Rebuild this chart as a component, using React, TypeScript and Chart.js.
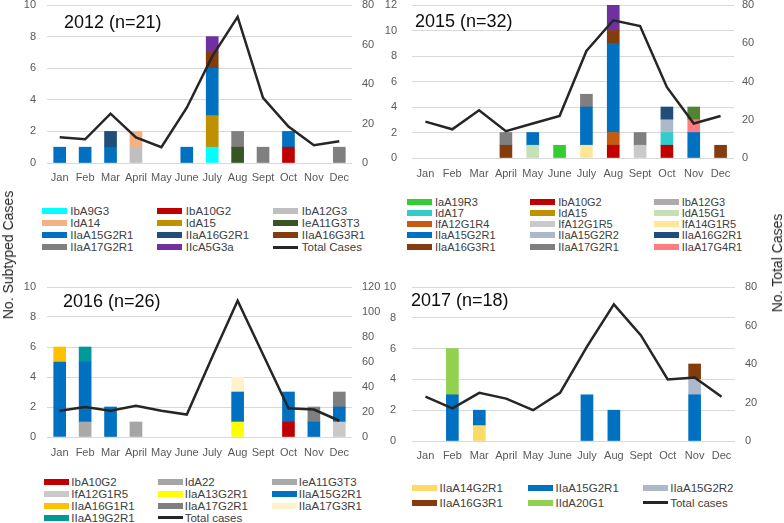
import React, { useEffect, useRef } from "react";
import { Chart, registerables } from "chart.js";

Chart.register(...registerables);
Chart.defaults.font.family = "'Liberation Sans', Arial, sans-serif";

const months = ["Jan", "Feb", "Mar", "April", "May", "June", "July", "Aug", "Sept", "Oct", "Nov", "Dec"];

// ---------- 2012 ----------
const names2012 = ["IbA9G3", "IbA10G2", "IbA12G3", "IdA14", "IdA15", "IeA11G3T3", "IIaA15G2R1", "IIaA16G2R1", "IIaA16G3R1", "IIaA17G2R1", "IIcA5G3a"];
const counts2012 = [
  [0, 0, 0, 0, 0, 0, 1, 0, 0, 0, 0, 0],
  [0, 0, 0, 0, 0, 0, 0, 0, 0, 1, 0, 0],
  [0, 0, 0, 1, 0, 0, 0, 0, 0, 0, 0, 0],
  [0, 0, 0, 1, 0, 0, 0, 0, 0, 0, 0, 0],
  [0, 0, 0, 0, 0, 0, 2, 0, 0, 0, 0, 0],
  [0, 0, 0, 0, 0, 0, 0, 1, 0, 0, 0, 0],
  [1, 1, 1, 0, 0, 1, 3, 0, 0, 1, 0, 0],
  [0, 0, 1, 0, 0, 0, 0, 0, 0, 0, 0, 0],
  [0, 0, 0, 0, 0, 0, 1, 0, 0, 0, 0, 0],
  [0, 0, 0, 0, 0, 0, 0, 1, 1, 0, 0, 1],
  [0, 0, 0, 0, 0, 0, 1, 0, 0, 0, 0, 0],
];
const total2012 = [13, 12, 25, 13, 8, 28, 54, 74, 33, 18.5, 9, 11];
const colors2012 = ["#00ffff", "#c00000", "#bfbfbf", "#f4b183", "#bf9000", "#375623", "#0070c0", "#1f4e79", "#843c0c", "#7f7f7f", "#7030a0"];

// ---------- 2015 ----------
const names2015 = ["IaA19R3", "IbA10G2", "IbA12G3", "IdA17", "IdA15", "IdA15G1", "IfA12G1R4", "IfA12G1R5", "IfA14G1R5", "IIaA15G2R1", "IIaA15G2R2", "IIaA16G2R1", "IIaA16G3R1", "IIaA17G2R1", "IIaA17G4R1", "IIaA18G3R1", "IIcA5G3a"];
const counts2015 = [
  [0, 0, 0, 0, 0, 1, 0, 0, 0, 0, 0, 0],
  [0, 0, 0, 0, 0, 0, 0, 1, 0, 1, 0, 0],
  [0, 0, 0, 0, 0, 0, 0, 0, 0, 0, 0, 0],
  [0, 0, 0, 0, 0, 0, 0, 0, 0, 1, 0, 0],
  [0, 0, 0, 0, 0, 0, 0, 0, 0, 0, 0, 0],
  [0, 0, 0, 0, 1, 0, 0, 0, 0, 0, 0, 0],
  [0, 0, 0, 0, 0, 0, 0, 1, 0, 0, 0, 0],
  [0, 0, 0, 0, 0, 0, 0, 0, 1, 0, 0, 0],
  [0, 0, 0, 0, 0, 0, 1, 0, 0, 0, 0, 0],
  [0, 0, 0, 0, 1, 0, 3, 7, 0, 0, 2, 0],
  [0, 0, 0, 0, 0, 0, 0, 0, 0, 1, 0, 0],
  [0, 0, 0, 0, 0, 0, 0, 0, 0, 1, 0, 0],
  [0, 0, 0, 1, 0, 0, 0, 1, 0, 0, 0, 1],
  [0, 0, 0, 1, 0, 0, 1, 0, 1, 0, 0, 0],
  [0, 0, 0, 0, 0, 0, 0, 0, 0, 0, 1, 0],
  [0, 0, 0, 0, 0, 0, 0, 0, 0, 0, 1, 0],
  [0, 0, 0, 0, 0, 0, 0, 2, 0, 0, 0, 0],
];
const total2015 = [19, 15, 25, 14, 18, 22, 56, 72, 69, 37, 18, 22];
const colors2015 = ["#33cc33", "#c00000", "#aeaaaa", "#33cccc", "#bf9000", "#c5e0b4", "#c55a11", "#c9c9c9", "#ffe699", "#0070c0", "#adb9ca", "#1f4e79", "#843c0c", "#7f7f7f", "#ff7c80", "#548235", "#7030a0"];
const legendCount2015 = 15;

// ---------- 2016 ----------
const names2016 = ["IbA10G2", "IdA22", "IeA11G3T3", "IfA12G1R5", "IIaA13G2R1", "IIaA15G2R1", "IIaA16G1R1", "IIaA17G2R1", "IIaA17G3R1", "IIaA19G2R1"];
const counts2016 = [
  [0, 0, 0, 0, 0, 0, 0, 0, 0, 1, 0, 0],
  [0, 0, 0, 1, 0, 0, 0, 0, 0, 0, 0, 0],
  [0, 1, 0, 0, 0, 0, 0, 0, 0, 0, 0, 0],
  [0, 0, 0, 0, 0, 0, 0, 0, 0, 0, 0, 1],
  [0, 0, 0, 0, 0, 0, 0, 1, 0, 0, 0, 0],
  [5, 4, 2, 0, 0, 0, 0, 2, 0, 2, 1, 1],
  [1, 0, 0, 0, 0, 0, 0, 0, 0, 0, 0, 0],
  [0, 0, 0, 0, 0, 0, 0, 0, 0, 0, 1, 1],
  [0, 0, 0, 0, 0, 0, 0, 1, 0, 0, 0, 0],
  [0, 1, 0, 0, 0, 0, 0, 0, 0, 0, 0, 0],
];
const total2016 = [21, 24, 21, 25, 21, 18, 64, 109, 66, 23, 22, 13];
const colors2016 = ["#c00000", "#a5a5a5", "#a9a9a9", "#c9c9c9", "#ffff00", "#0070c0", "#ffc000", "#7f7f7f", "#fff2cc", "#009999"];

// ---------- 2017 ----------
const names2017 = ["IIaA14G2R1", "IIaA15G2R1", "IIaA15G2R2", "IIaA16G3R1", "IIdA20G1"];
const counts2017 = [
  [0, 0, 1, 0, 0, 0, 0, 0, 0, 0, 0, 0],
  [0, 3, 1, 0, 0, 0, 3, 2, 0, 0, 3, 0],
  [0, 0, 0, 0, 0, 0, 0, 0, 0, 0, 1, 0],
  [0, 0, 0, 0, 0, 0, 0, 0, 0, 0, 1, 0],
  [0, 3, 0, 0, 0, 0, 0, 0, 0, 0, 0, 0],
];
const total2017 = [23, 17, 25, 22, 16, 25, 49, 71, 55, 32, 33, 23];
const colors2017 = ["#ffd966", "#0070c0", "#adb9ca", "#843c0c", "#92d050"];

type PanelProps = {
  left: number; top: number; width: number; height: number;
  yW: number; y1W: number; padTop: number; xH: number;
  yPad: number; y1Pad: number; xPad: number;
  yMax: number; yStep: number; y1Max: number; y1Step: number;
  names: string[]; counts: number[][]; colors: string[]; total: number[]; totalLabel: string;
};

function Panel(p: PanelProps) {
  const ref = useRef<HTMLCanvasElement>(null);
  useEffect(() => {
    const datasets: any[] = [
      {
        type: "line", label: p.totalLabel, data: p.total, yAxisID: "y1",
        borderColor: "#262626", borderWidth: 2.5, pointRadius: 0, tension: 0, fill: false, order: 0,
      },
    ];
    p.names.forEach((n, i) => {
      datasets.push({
        type: "bar", label: n, data: p.counts[i].map((v) => (v === 0 ? null : v)),
        backgroundColor: p.colors[i], borderWidth: 0, yAxisID: "y", stack: "s", order: 1,
        barThickness: 12,
      });
    });
    const tickFont = { size: 11 };
    const chart = new Chart(ref.current as HTMLCanvasElement, {
      type: "bar",
      data: { labels: months, datasets },
      options: {
        animation: false,
        responsive: false,
        layout: { padding: { top: p.padTop, left: 0, right: 0, bottom: 0 } },
        plugins: { legend: { display: false }, tooltip: { enabled: false } },
        scales: {
          x: {
            stacked: true,
            grid: { display: false, drawTicks: false },
            border: { display: false },
            ticks: { color: "#595959", font: tickFont, padding: p.xPad, maxRotation: 0, autoSkip: false },
            afterFit: (s: any) => { s.height = p.xH; s.paddingLeft = 0; s.paddingRight = 0; },
          },
          y: {
            stacked: true, min: 0, max: p.yMax,
            ticks: { stepSize: p.yStep, color: "#595959", font: tickFont, padding: p.yPad },
            grid: { color: "#d9d9d9", drawTicks: false, lineWidth: 1 },
            border: { display: false },
            afterFit: (s: any) => { s.width = p.yW; s.paddingTop = 0; s.paddingBottom = 0; },
          },
          y1: {
            position: "right", min: 0, max: p.y1Max,
            ticks: { stepSize: p.y1Step, color: "#595959", font: tickFont, padding: p.y1Pad },
            grid: { display: false, drawTicks: false },
            border: { display: false },
            afterFit: (s: any) => { s.width = p.y1W; s.paddingTop = 0; s.paddingBottom = 0; },
          },
        },
      } as any,
    });
    return () => chart.destroy();
  }, []);
  return (
    <canvas
      ref={ref}
      width={p.width}
      height={p.height}
      style={{ position: "absolute", left: p.left, top: p.top, width: p.width, height: p.height }}
    />
  );
}

type LegendProps = {
  items: { label: string; color: string; line?: boolean }[];
  cols: number[]; rows: number[]; gap: number; font: number;
};

function Legend(l: LegendProps) {
  return (
    <>
      {l.items.map((it, i) => {
        const c = i % 3;
        const r = Math.floor(i / 3);
        return (
          <div
            key={i}
            style={{
              position: "absolute", left: l.cols[c], top: l.rows[r] - 7, height: 14,
              display: "flex", alignItems: "center", whiteSpace: "nowrap",
            }}
          >
            <div style={{ width: 25, height: it.line ? 2.5 : 6, background: it.color, marginRight: l.gap }} />
            <span style={{ fontSize: l.font, lineHeight: "14px", color: "#404040" }}>{it.label}</span>
          </div>
        );
      })}
    </>
  );
}

function Title({ text, left, top }: { text: string; left: number; top: number }) {
  return (
    <div style={{ position: "absolute", left, top, fontSize: 18, lineHeight: "18px", color: "#0d0d0d", whiteSpace: "nowrap" }}>
      {text}
    </div>
  );
}

function items(names: string[], colors: string[], count: number, total?: string) {
  const arr: { label: string; color: string; line?: boolean }[] = names.slice(0, count).map((n, i) => ({ label: n, color: colors[i] }));
  if (total) arr.push({ label: total, color: "#262626", line: true });
  return arr;
}

export default function App() {
  return (
    <div
      style={{
        position: "absolute", left: 0, top: 0, width: 784, height: 523, overflow: "hidden",
        background: "#ffffff", fontFamily: "'Liberation Sans', Arial, sans-serif",
      }}
    >
      <Panel left={0} top={0} width={392} height={195} yW={47} y1W={40} padTop={5} xH={32}
        yPad={11} y1Pad={10} xPad={8} yMax={10} yStep={2} y1Max={80} y1Step={20}
        names={names2012} counts={counts2012} colors={colors2012} total={total2012} totalLabel="Total Cases" />
      <Panel left={380} top={0} width={404} height={190} yW={32} y1W={50} padTop={5} xH={32}
        yPad={15} y1Pad={8} xPad={9} yMax={12} yStep={2} y1Max={80} y1Step={20}
        names={names2015} counts={counts2015} colors={colors2015} total={total2015} totalLabel="Total Cases" />
      <Panel left={0} top={280} width={392} height={190} yW={47} y1W={40} padTop={7} xH={33}
        yPad={11} y1Pad={10} xPad={9} yMax={10} yStep={2} y1Max={120} y1Step={20}
        names={names2016} counts={counts2016} colors={colors2016} total={total2016} totalLabel="Total cases" />
      <Panel left={380} top={280} width={404} height={195} yW={32} y1W={49} padTop={7} xH={34}
        yPad={16} y1Pad={10} xPad={8} yMax={10} yStep={2} y1Max={80} y1Step={20}
        names={names2017} counts={counts2017} colors={colors2017} total={total2017} totalLabel="Total cases" />

      <Title text="2012 (n=21)" left={64} top={13} />
      <Title text="2015 (n=32)" left={415} top={11.5} />
      <Title text="2016 (n=26)" left={63} top={292} />
      <Title text="2017 (n=18)" left={411} top={291} />

      <Legend items={items(names2012, colors2012, names2012.length, "Total Cases")}
        cols={[41.7, 157.3, 273.3]} rows={[210.7, 222.7, 235, 247.3]} gap={3.5} font={11.5} />
      <Legend items={items(names2015, colors2015, legendCount2015)}
        cols={[407, 530.3, 653.7]} rows={[201.7, 212.7, 224, 235, 246.7]} gap={3} font={11} />
      <Legend items={items(names2016, colors2016, names2016.length, "Total cases")}
        cols={[44.3, 157.7, 271.7]} rows={[482.3, 494, 505.7, 517.7]} gap={2} font={11.5} />
      <Legend items={items(names2017, colors2017, names2017.length, "Total cases")}
        cols={[412, 528, 642.7]} rows={[488.3, 502.7]} gap={2.5} font={11.5} />

      <div style={{
        position: "absolute", left: 8, top: 255, transform: "translate(-50%,-50%) rotate(-90deg)",
        fontSize: 14, color: "#262626", whiteSpace: "nowrap", lineHeight: "16px",
      }}>No. Subtyped Cases</div>
      <div style={{
        position: "absolute", left: 777, top: 263, transform: "translate(-50%,-50%) rotate(-90deg)",
        fontSize: 14, color: "#262626", whiteSpace: "nowrap", lineHeight: "16px",
      }}>No. Total Cases</div>
    </div>
  );
}
